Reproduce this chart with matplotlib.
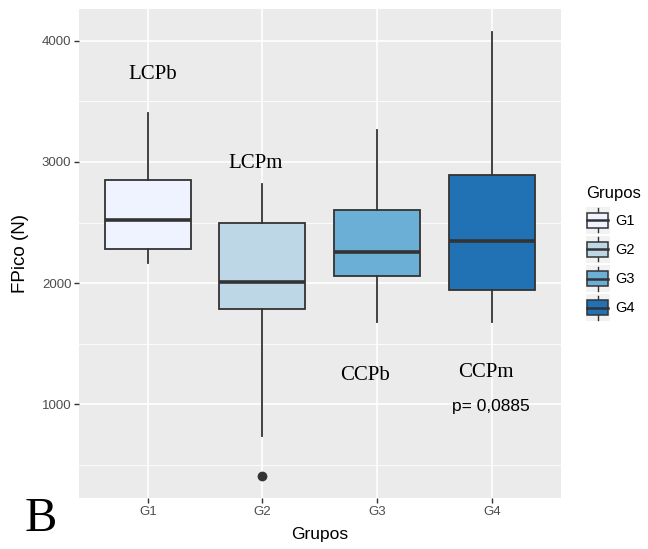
import numpy as np
import matplotlib
matplotlib.use('Agg')
import matplotlib.pyplot as plt
from matplotlib.patches import Patch, Rectangle
from matplotlib.lines import Line2D
from matplotlib.legend_handler import HandlerBase
from matplotlib.ticker import MultipleLocator

# box statistics (FPico in N)
groups = ['G1', 'G2', 'G3', 'G4']
whisk_hi = [3400, 2815, 3265, 4070]
q3 = [2855, 2495, 2600, 2890]
medians = [2522, 2012, 2257, 2352]
q1 = [2278, 1788, 2057, 1940]
whisk_lo = [2167, 742, 1683, 1683]
outliers = [[], [414], [], []]
colors = ['#EFF3FF', '#BDD7E7', '#6BAED6', '#2171B5']

# text annotations on the panel
ann_text = ['LCPb', 'LCPm', 'CCPb', 'CCPm']
ann_x = [1.04, 1.94, 2.895, 3.95]
ann_y = [3725, 2984, 1236, 1263]
p_text = 'p= 0,0885'
p_x, p_y = 3.99, 983

SANS = 'Liberation Sans'
SERIF = 'Liberation Serif'
EDGE = '#333333'


class BoxKey(HandlerBase):
    # small boxplot glyph like the ggplot legend keys
    def create_artists(self, legend, orig_handle, xdescent, ydescent,
                       width, height, fontsize, trans):
        x0, y0 = -xdescent, -ydescent
        cx = x0 + width / 2
        cy = y0 + height / 2
        bg = Rectangle((x0, y0), width, height, fc='#F2F2F2', ec='none', transform=trans)
        wh = Line2D([cx, cx], [y0 + 0.06 * height, y0 + 0.94 * height],
                    color=EDGE, lw=1.0, transform=trans)
        bx = Rectangle((x0 + 0.06 * width, y0 + 0.22 * height), 0.88 * width, 0.56 * height,
                       fc=orig_handle.get_facecolor(), ec=EDGE, lw=1.1, transform=trans)
        md = Line2D([x0 + 0.06 * width, x0 + 0.94 * width], [cy, cy],
                    color=EDGE, lw=1.8, transform=trans)
        return [bg, wh, bx, md]


fig = plt.figure(figsize=(6.48, 5.49), dpi=100)
ax = fig.add_axes([79 / 648, 1 - 498 / 549, (560.6 - 79) / 648, (498 - 9) / 549])
ax.set_facecolor('#EBEBEB')

stats = []
for i in range(len(groups)):
    stats.append({'label': groups[i], 'whislo': whisk_lo[i], 'q1': q1[i],
                  'med': medians[i], 'q3': q3[i], 'whishi': whisk_hi[i],
                  'fliers': outliers[i]})

pos = np.arange(1, len(groups) + 1)
bp = ax.bxp(stats, positions=pos, widths=0.75, patch_artist=True, showcaps=False,
            boxprops=dict(edgecolor=EDGE, linewidth=1.3),
            whiskerprops=dict(color=EDGE, linewidth=1.3),
            medianprops=dict(color=EDGE, linewidth=2.6, solid_capstyle='butt'),
            flierprops=dict(marker='o', markerfacecolor=EDGE, markeredgecolor=EDGE,
                            markersize=6, linestyle='none'),
            zorder=3)
for patch, c in zip(bp['boxes'], colors):
    patch.set_facecolor(c)

ax.set_xlim(0.4, 4.6)
ax.set_ylim(229, 4261)
ax.set_xticks(pos)
ax.set_xticklabels(groups)
ax.set_yticks([1000, 2000, 3000, 4000])
ax.yaxis.set_minor_locator(MultipleLocator(500))

ax.grid(True, which='major', color='white', linewidth=1.2, zorder=0)
ax.grid(True, which='minor', axis='y', color='white', linewidth=0.6, zorder=0)
ax.set_axisbelow(True)
for s in ax.spines.values():
    s.set_visible(False)
ax.tick_params(axis='both', which='major', length=3.5, width=1, color=EDGE,
               labelcolor='#4D4D4D', labelsize=9.5, pad=2)
ax.tick_params(axis='y', which='minor', length=0)
for lbl in ax.get_xticklabels() + ax.get_yticklabels():
    lbl.set_family(SANS)

ax.set_xlabel('Grupos', family=SANS, fontsize=12.5, color='black')
ax.set_ylabel('FPico (N)', family=SANS, fontsize=13.5, color='black')
ax.xaxis.set_label_coords(0.5, -0.059)
ax.yaxis.set_label_coords(-0.103, 0.5)

for t, x, y in zip(ann_text, ann_x, ann_y):
    ax.text(x, y, t, family=SERIF, fontsize=15, ha='center', va='center', zorder=5)
ax.text(p_x, p_y, p_text, family=SANS, fontsize=12.5, ha='center', va='center', zorder=5)

fig.text(41 / 648, 1 - 519 / 549, 'B', family=SERIF, fontsize=35, ha='center', va='center')

handles = [Patch(facecolor=c) for c in colors]
leg = fig.legend(handles, groups, loc='upper left', bbox_to_anchor=(586 / 648, 1 - 186 / 549),
                 handler_map={Patch: BoxKey()}, frameon=False, title='Grupos',
                 prop={'family': SANS, 'size': 10.5}, handlelength=1.63, handleheight=2.5,
                 labelspacing=0.13, handletextpad=0.35, borderpad=0, borderaxespad=0,
                 alignment='left')
leg.get_title().set_family(SANS)
leg.get_title().set_fontsize(12)
# a little more room between title and first key, as in the reference
leg._legend_box.sep = 4

fig.savefig('out.png', dpi=100)
